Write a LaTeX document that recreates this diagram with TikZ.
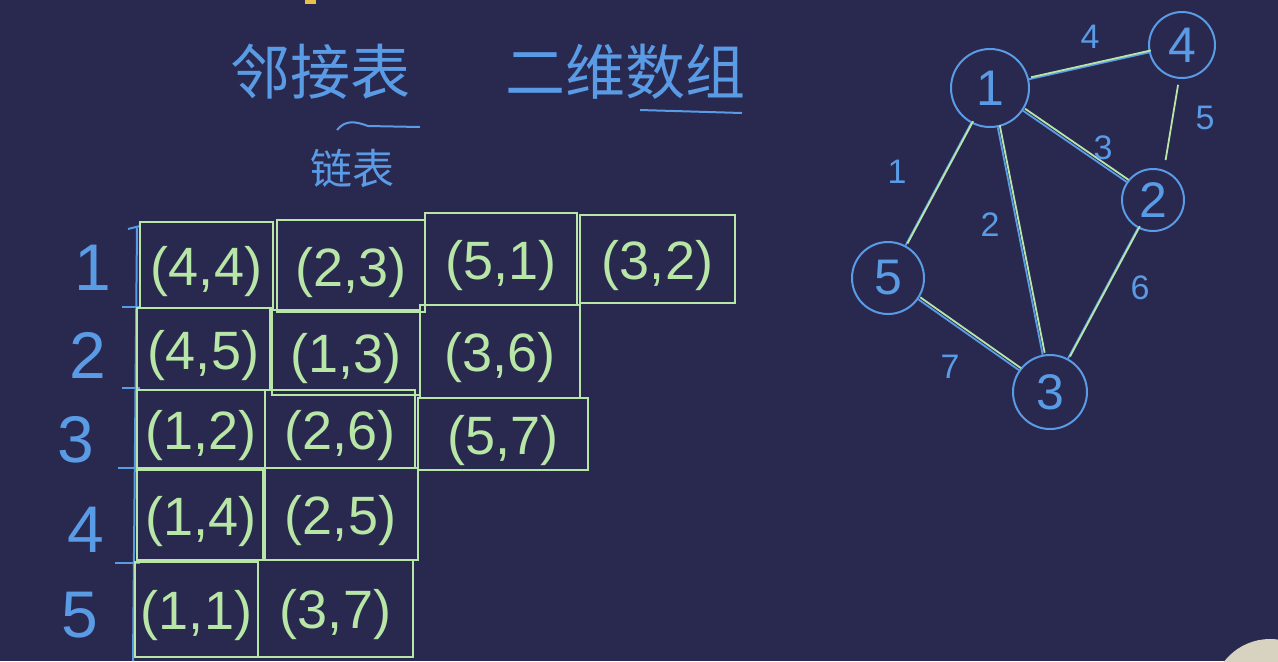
\documentclass[tikz,border=0pt]{standalone}
\usepackage{fontspec}
\setmainfont{Liberation Sans}
\newfontfamily\cjk{Noto Sans CJK SC}
\definecolor{bg}{HTML}{29284F}
\definecolor{pen}{HTML}{5A9BE6}
\definecolor{chalk}{HTML}{B8E6A6}
\definecolor{yellowdot}{HTML}{E8C04A}
\definecolor{skin}{HTML}{D8D2C0}
\newcommand{\mycell}[6]{%
  \node[cellbox, minimum width={(#4-#2)*0.5pt}, minimum height={(#5-#3)*0.5pt}]
    (#1) at ({(#2+#4)/2},{(#3+#5)/2}) {#6};}
\begin{document}
\begin{tikzpicture}[x=0.5pt,y=-0.5pt,
  cellbox/.style={draw=chalk, line width=1pt, text=chalk, inner sep=0pt,
    text height=23pt, text depth=3pt,
    font=\fontsize{27}{27}\selectfont},
  rowlab/.style={text=pen, font=\fontsize{33}{33}\selectfont},
  vertex/.style={circle, draw=pen, line width=1pt, text=pen, inner sep=0pt,
    font=\fontsize{25}{25}\selectfont},
  wlab/.style={text=pen, font=\fontsize{17}{17}\selectfont},
  bedge/.style={draw=pen, line width=0.9pt},
  gedge/.style={draw=chalk, line width=0.9pt},
  title/.style={text=pen, font=\cjk\fontsize{30}{30}\selectfont}]
\fill[bg] (0,0) rectangle (1278,661);
\useasboundingbox (0,0) rectangle (1278,661);
% decorations at the edges
\fill[yellowdot] (305,0) rectangle (316,4);
\begin{scope}
\clip (0,0) rectangle (1278,661);
\fill[skin] (1270,697) circle (58);
\end{scope}
% titles
\node[title] (t1) at (320,72) {邻接表};
\node[title] (t2) at (625,72) {二维数组};
\node[text=pen, font=\cjk\fontsize{21}{21}\selectfont] (t3) at (352,168) {链表};
\draw[pen, line width=1pt] (337,130) .. controls (345,120) and (355,121) .. (368,126) -- (420,127);
\draw[pen, line width=1pt] (640,110) -- (742,113);
% left spine
\draw[pen, line width=1pt] (128,229) -- (140,226);
\draw[pen, line width=1pt] (137,228) -- (133,661);
\foreach \yy/\xa in {307/122,388/122,468/118,563/115}
  \draw[pen, line width=1pt] (\xa,\yy) -- (140,\yy);
% row labels
\node[rowlab] (r1) at (93,268) {1};
\node[rowlab] (r2) at (88,355) {2};
\node[rowlab] (r3) at (76,440) {3};
\node[rowlab] (r4) at (86,530) {4};
\node[rowlab] (r5) at (80,615) {5};
% cells
\mycell{c11}{140}{222}{273}{308}{(4,4)}
\mycell{c12}{277}{220}{425}{312}{(2,3)}
\mycell{c13}{425}{213}{577}{305}{(5,1)}
\mycell{c14}{580}{215}{735}{303}{(3,2)}
\mycell{c21}{137}{308}{270}{390}{(4,5)}
\mycell{c22}{272}{310}{420}{395}{(1,3)}
\mycell{c23}{420}{305}{580}{398}{(3,6)}
\mycell{c31}{137}{390}{265}{468}{(1,2)}
\mycell{c32}{265}{390}{415}{468}{(2,6)}
\mycell{c33}{418}{398}{588}{470}{(5,7)}
\mycell{c41}{137}{470}{265}{560}{(1,4)}
\mycell{c42}{263}{468}{418}{560}{(2,5)}
\mycell{c51}{135}{562}{258}{657}{(1,1)}
\mycell{c52}{258}{560}{413}{657}{(3,7)}
% graph
\node[vertex, minimum size=39pt] (n1) at (990,88) {1};
\node[vertex, minimum size=33pt] (n4) at (1182,45) {4};
\node[vertex, minimum size=31pt] (n2) at (1153,200) {2};
\node[vertex, minimum size=36pt] (n5) at (888,278) {5};
\node[vertex, minimum size=37pt] (n3) at (1050,392) {3};
\foreach \a/\b in {n1/n4,n1/n2,n1/n5,n1/n3,n2/n3,n5/n3}{
  \draw[bedge] (\a) -- (\b);
  \draw[gedge, transform canvas={shift={(1pt,1pt)}}] (\a) -- (\b);
}
\draw[gedge, shorten <=3pt, shorten >=5pt] (n4.265) -- (n2.70);
% weights
\node[wlab] (w14) at (1090,37) {4};
\node[wlab] (w42) at (1205,118) {5};
\node[wlab] (w12) at (1103,148) {3};
\node[wlab] (w15) at (897,172) {1};
\node[wlab] (w13) at (990,225) {2};
\node[wlab] (w23) at (1140,288) {6};
\node[wlab] (w53) at (950,367) {7};
\end{tikzpicture}
\end{document}
